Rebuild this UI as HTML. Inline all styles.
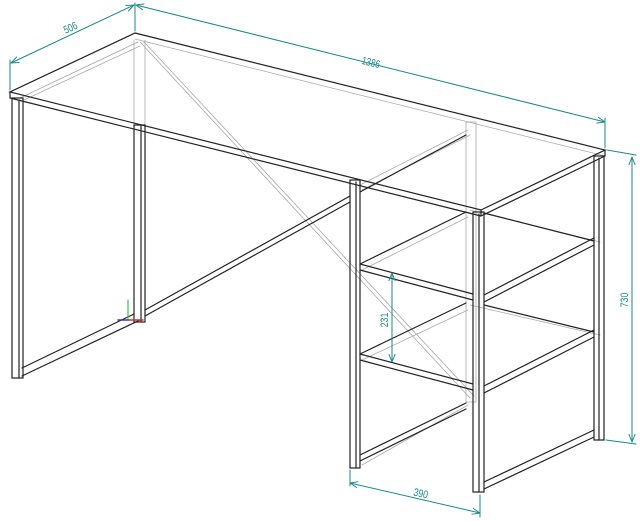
<!DOCTYPE html>
<html><head><style>html,body{margin:0;padding:0;background:#fff;width:640px;height:521px;overflow:hidden}</style></head>
<body>
<svg width="640" height="521" viewBox="0 0 640 521" xmlns="http://www.w3.org/2000/svg" style="font-family:'Liberation Sans',sans-serif">
<defs>
<marker id="a" viewBox="0 0 10 10" refX="10" refY="5" markerWidth="8" markerHeight="8" orient="auto-start-reverse" markerUnits="userSpaceOnUse">
<path d="M0,1 L10,5 L0,9" fill="none" stroke="#1a8a8a" stroke-width="1.2"/>
</marker>
</defs>
<g fill="none" stroke-linecap="round">
<g stroke="#aaa" stroke-width="0.8">
<line x1="140" y1="42" x2="470" y2="398"/>
<line x1="144" y1="42" x2="474" y2="396"/>
<line x1="135" y1="39" x2="605" y2="156"/>
<line x1="20" y1="98" x2="138" y2="42"/>
<line x1="24" y1="100" x2="140" y2="46"/>
<rect x="466" y="122" width="10" height="280"/>
<line x1="360" y1="185" x2="468" y2="130"/>
<line x1="362" y1="190" x2="470" y2="135"/>
<line x1="470" y1="210" x2="600" y2="242"/>
<line x1="470" y1="305" x2="600" y2="335"/>
<line x1="362" y1="270" x2="468" y2="217"/>
<line x1="362" y1="360" x2="468" y2="310"/>
<line x1="362" y1="465" x2="468" y2="405"/>
<line x1="134" y1="40" x2="134" y2="125"/>
<line x1="145" y1="40" x2="145" y2="125"/>
</g>
<g stroke="#222" stroke-width="1.2">
<polygon points="135,33 605,150 481,210 10,92"/>
<line x1="10" y1="92" x2="10" y2="98"/>
<line x1="10" y1="98" x2="481" y2="216"/>
<line x1="481" y1="210" x2="481" y2="216"/>
<line x1="481" y1="216" x2="605" y2="156"/>
<line x1="605" y1="150" x2="605" y2="156"/>
<rect x="12" y="98" width="11" height="280"/>
<line x1="19" y1="100" x2="19" y2="378"/>
<rect x="134" y="125" width="11" height="197"/>
<line x1="141" y1="125" x2="141" y2="322"/>
<line x1="22" y1="368" x2="134" y2="314"/>
<line x1="22" y1="376" x2="140" y2="320"/>
<line x1="145" y1="310" x2="350" y2="196"/>
<line x1="145" y1="316" x2="350" y2="202"/>
<line x1="360" y1="192" x2="466" y2="135"/>
<rect x="350" y="180" width="10" height="288"/>
<line x1="356" y1="182" x2="356" y2="468"/>
<rect x="473" y="212" width="11" height="280"/>
<line x1="479" y1="214" x2="479" y2="492"/>
<rect x="594" y="156" width="10" height="284"/>
<line x1="599" y1="158" x2="599" y2="440"/>
<line x1="360" y1="264" x2="473" y2="294"/>
<line x1="360" y1="270" x2="473" y2="300"/>
<line x1="360" y1="264" x2="466" y2="212"/>
<line x1="484" y1="295" x2="594" y2="238"/>
<line x1="484" y1="302" x2="594" y2="245"/>
<line x1="484" y1="213" x2="594" y2="241"/>
<line x1="360" y1="354" x2="473" y2="384"/>
<line x1="360" y1="360" x2="473" y2="390"/>
<line x1="360" y1="354" x2="466" y2="303"/>
<line x1="484" y1="386" x2="594" y2="330"/>
<line x1="484" y1="393" x2="594" y2="337"/>
<line x1="484" y1="305" x2="594" y2="332"/>
<line x1="360" y1="455" x2="466" y2="403"/>
<line x1="360" y1="461" x2="466" y2="409"/>
<line x1="484" y1="482" x2="594" y2="430"/>
<line x1="484" y1="489" x2="594" y2="437"/>
</g>
<line x1="128" y1="320" x2="128" y2="300" stroke="#3c3" stroke-width="1.2"/>
<line x1="128" y1="320" x2="118" y2="320" stroke="#33c" stroke-width="1.5"/>
<line x1="128" y1="320" x2="143" y2="320" stroke="#c33" stroke-width="1.5"/>
<g stroke="#1a8a8a" stroke-width="1">
<line x1="10" y1="90" x2="10" y2="60"/>
<line x1="135" y1="31" x2="135" y2="3"/>
<line x1="11" y1="63" x2="134" y2="5" marker-start="url(#a)" marker-end="url(#a)"/>
<line x1="136" y1="5" x2="605" y2="122" marker-start="url(#a)" marker-end="url(#a)"/>
<line x1="605" y1="148" x2="605" y2="118"/>
<line x1="607" y1="150" x2="636" y2="155"/>
<line x1="606" y1="440" x2="636" y2="444"/>
<line x1="632" y1="157" x2="632" y2="442" marker-start="url(#a)" marker-end="url(#a)"/>
<line x1="392" y1="273" x2="392" y2="362" marker-start="url(#a)" marker-end="url(#a)"/>
<line x1="350" y1="470" x2="350" y2="486"/>
<line x1="480" y1="495" x2="480" y2="517"/>
<line x1="350" y1="483" x2="480" y2="513" marker-start="url(#a)" marker-end="url(#a)"/>
</g>
<g fill="#1a8a8a" font-size="11">
<text transform="translate(72,31) rotate(-25) scale(0.75,1)" text-anchor="middle">506</text>
<text transform="translate(370,66) rotate(14) scale(0.75,1)" text-anchor="middle">1386</text>
<text transform="translate(628,300) rotate(-90) scale(0.8,1)" text-anchor="middle">730</text>
<text transform="translate(388,320) rotate(-90) scale(0.8,1)" text-anchor="middle">231</text>
<text transform="translate(420,497) rotate(13) scale(0.8,1)" text-anchor="middle">390</text>
</g>
</g>
</svg>
</body></html>
